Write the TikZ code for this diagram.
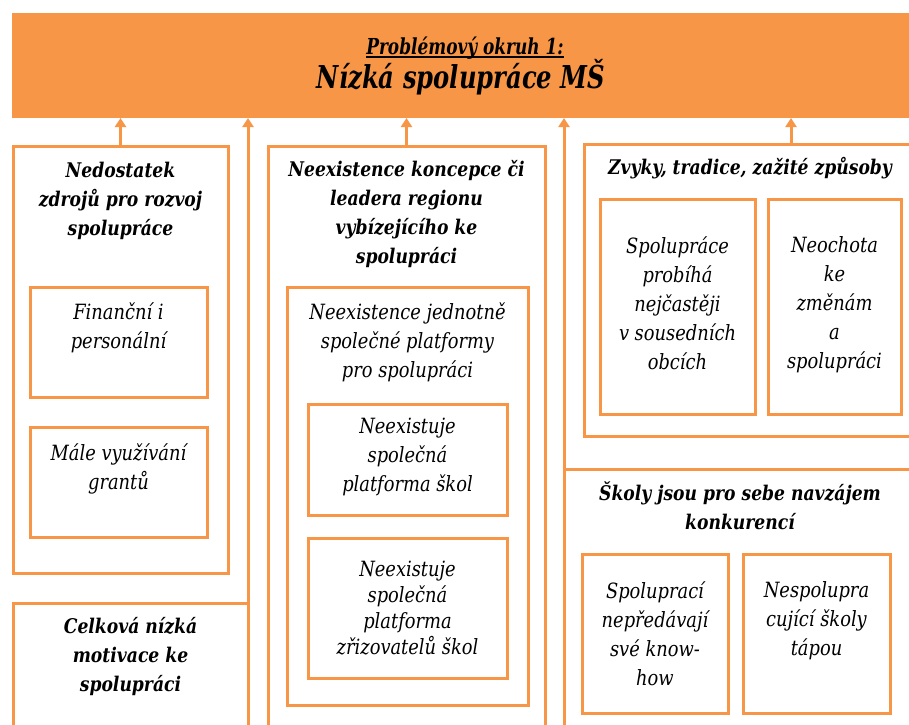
\documentclass[tikz,border=0pt]{standalone}
\usepackage{fontspec}
\setmainfont{DejaVu Serif}[FakeStretch=0.85]
\newfontfamily\okrfont{DejaVu Serif}[FakeStretch=0.77]
\usepackage{tikz}
\usetikzlibrary{arrows.meta,positioning}
\definecolor{okr}{HTML}{F79646}
\newcommand\podtrh[1]{\setbox0=\hbox{#1}\rlap{\copy0}\rule[-3.5pt]{\wd0}{1.6pt}}

\begin{document}
\begin{tikzpicture}[x=1pt,y=-1pt,
  every node/.style={inner sep=0pt, outer sep=0pt},
  box/.style={draw=okr, line width=3pt, rectangle, anchor=north west},
  head/.style={font=\fontsize{20.2}{29}\selectfont\bfseries\itshape, align=center,
               anchor=north, execute at begin node=\strut},
  item/.style={font=\fontsize{21}{29}\selectfont\itshape, align=center,
               anchor=north, execute at begin node=\strut},
  up/.style={draw=okr, line width=3pt, -{Triangle[width=11pt,length=9pt]}}]

\useasboundingbox (0,0) rectangle (909,724);
\clip (0,0) rectangle (909,724);

% problem area
\node (okruh) [box, draw=none, fill=okr, minimum width=920, minimum height=105] at (12,13) {};
\node (okr1) [anchor=base] at (465,54)
  {\okrfont\bfseries\itshape\fontsize{22}{26}\selectfont\podtrh{Problémový okruh 1:}};
\node (okr2) [anchor=base] at (461,88)
  {\okrfont\bfseries\itshape\fontsize{31.5}{36}\selectfont Nízká spolupráce MŠ};

% left column
\node (nedo) [box, minimum width=215, minimum height=427] at (13,146) {};
\node (nedo-t) [head, below=16.5pt of nedo.north] {Nedostatek\\zdrojů pro rozvoj\\spolupráce};
\node (fin) [box, minimum width=177, minimum height=110] at (30,287) {};
\node (fin-t) [item, below=15.7pt of fin.north] {Finanční i\\personální};
\node (male) [box, minimum width=177, minimum height=110] at (30,427) {};
\node (male-t) [item, below=16.2pt of male.north] {Mále využívání\\grantů};
\node (celk) [box, minimum width=235, minimum height=200] at (13,603) {};
\node (celk-t) [head, below=14.5pt of celk.north] {Celková nízká\\motivace ke\\spolupráci};

% middle column
\node (konc) [box, minimum width=277, minimum height=620] at (268,146) {};
\node (konc-t) [head, below=14.5pt of konc.north]
  {Neexistence koncepce či\\leadera regionu\\vybízejícího ke\\spolupráci};
\node (jedn) [box, minimum width=241, minimum height=418] at (287,287) {};
\node (jedn-t) [item, below=15.2pt of jedn.north]
  {Neexistence jednotně\\společné platformy\\pro spolupráci};
\node (skol) [box, minimum width=199, minimum height=111] at (308,404) {};
\node (skol-t) [item, below=14.2pt of skol.north] {Neexistuje\\společná\\platforma škol};
\node (zriz) [box, minimum width=199, minimum height=140] at (308,538) {};
\node (zriz-t) [item, font=\fontsize{21}{26}\selectfont\itshape, below=23.3pt of zriz.north]
  {Neexistuje\\společná\\platforma\\zřizovatelů škol};

% right column
\node (zvyky) [box, minimum width=414, minimum height=292] at (584,144) {};
\node (zvyky-t) [head] at (750,154.2) {Zvyky, tradice, zažité způsoby};
\node (sous) [box, minimum width=155, minimum height=215] at (600,199) {};
\node (sous-t) [item, below=37.2pt of sous.north]
  {Spolupráce\\probíhá\\nejčastěji\\v sousedních\\obcích};
\node (neoch) [box, minimum width=133, minimum height=215] at (768,199) {};
\node (neoch-t) [item, below=37.2pt of neoch.north] {Neochota\\ke\\změnám\\a\\spolupráci};
\node (skoly) [box, minimum width=352, minimum height=300] at (564,469) {};
\node (skoly-t) [head, below=12.5pt of skoly.north] {Školy jsou pro sebe navzájem\\konkurencí};
\node (know) [box, minimum width=146, minimum height=159] at (582,554) {};
\node (know-t) [item, below=27.2pt of know.north] {Spoluprací\\nepředávají\\své know-\\how};
\node (nesp) [box, minimum width=147, minimum height=159] at (743,554) {};
\node (nesp-t) [item, below=27.2pt of nesp.north] {Nespolupra\\cující školy\\tápou};

% arrows to the problem area
\draw [up] (nedo.north) -- (nedo.north |- okruh.south);
\draw [up] (celk.north east) -- (celk.north east |- okruh.south);
\draw [up] (konc.north) -- (konc.north |- okruh.south);
\draw [up] (skoly.north west) -- (skoly.north west |- okruh.south);
\draw [up] (zvyky.north) -- (zvyky.north |- okruh.south);

\end{tikzpicture}
\end{document}
